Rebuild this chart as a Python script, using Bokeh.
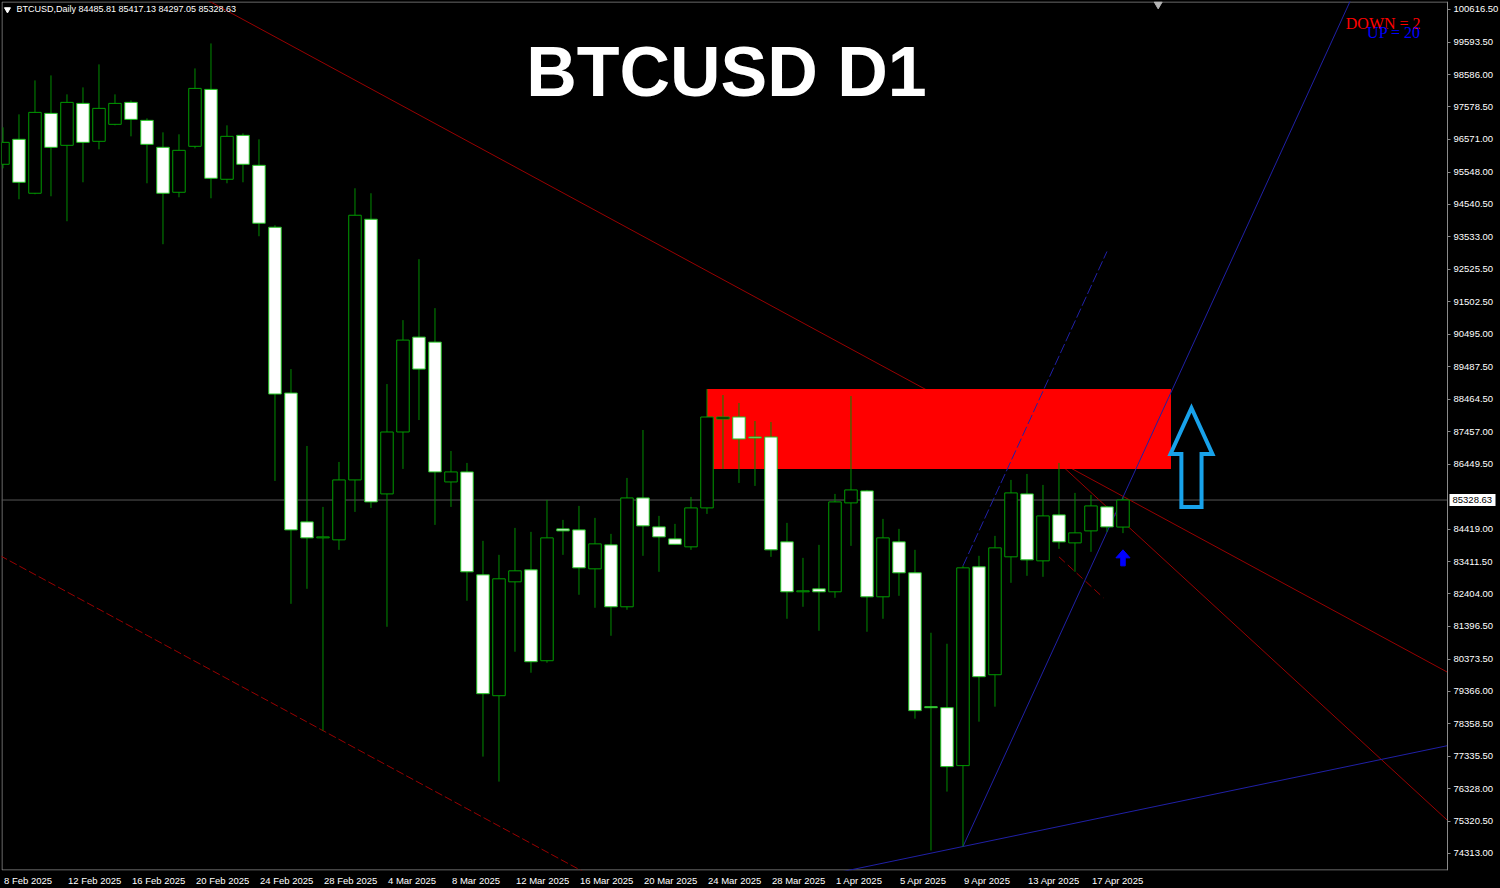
import numpy as np
from bokeh.plotting import figure
from bokeh.models import Range1d, FixedTicker, NumeralTickFormatter, Label
from bokeh.core.properties import value
from bokeh.embed import file_html
from bokeh.resources import INLINE

# ---------------- data ----------------
symbol = "BTCUSD,Daily"
title_text = "BTCUSD D1"
date_tick_idx = [0, 4, 8, 12, 16, 20, 24, 28, 32, 36, 40, 44, 48, 52, 56, 60, 64, 68]
date_labels = ["8 Feb 2025", "12 Feb 2025", "16 Feb 2025", "20 Feb 2025", "24 Feb 2025",
               "28 Feb 2025", "4 Mar 2025", "8 Mar 2025", "12 Mar 2025", "16 Mar 2025",
               "20 Mar 2025", "24 Mar 2025", "28 Mar 2025", "1 Apr 2025", "5 Apr 2025",
               "9 Apr 2025", "13 Apr 2025", "17 Apr 2025"]

opens = [95792, 96570, 94889, 97379, 96383, 97690, 96508, 97037, 97722, 97161,
         96321, 94920, 96352, 98126, 95325, 96694, 95760, 93830, 88663, 84647,
         84149, 84087, 85955, 94079, 85519, 87449, 90406, 90250, 85892, 86204,
         82997, 79230, 82779, 83153, 80320, 84429, 84398, 83184, 83931, 82001,
         85394, 84491, 84118, 83869, 85083, 87853, 87916, 87293, 87293, 84025,
         82468, 82561, 82468, 85239, 85612, 82312, 84025, 83060, 78888, 78857,
         77051, 83246, 79884, 83558, 85519, 83433, 84865, 83993, 84367, 85114,
         84485.81]
highs = [96943, 97348, 98406, 98562, 97971, 98189, 98905, 97971, 97784, 97224,
         96788, 96726, 98780, 99558, 97006, 96757, 96570, 93893, 89410, 87013,
         85114, 86515, 95045, 94889, 88943, 90935, 92834, 91309, 86857, 86484,
         84056, 83620, 84460, 84336, 85332, 84709, 85145, 84772, 84274, 86017,
         87511, 84834, 84585, 85425, 88787, 88601, 88352, 87791, 87760, 84616,
         83526, 83931, 85519, 88569, 85643, 84741, 84429, 83776, 81192, 80849,
         83277, 83589, 84211, 85955, 86141, 85799, 86484, 85550, 85488, 85145,
         85417.13]
lows = [95667, 94702, 94858, 94795, 94017, 95231, 96259, 97006, 96663, 95200,
        93301, 94764, 96290, 94733, 95200, 95231, 93550, 85923, 82094, 82561,
        78141, 83776, 84958, 85083, 81378, 86297, 87822, 84554, 85114, 82188,
        77332, 76553, 80600, 79946, 80258, 83620, 82375, 81970, 81098, 81908,
        83589, 83091, 83940, 83776, 84896, 86297, 85861, 85768, 83558, 81627,
        82001, 81254, 82281, 83900, 81223, 81627, 82343, 78514, 74405, 76242,
        74530, 78421, 78888, 82748, 82966, 82935, 83807, 83091, 83713, 84336,
        84297.05]
closes = [96476, 95231, 97410, 96321, 97722, 96476, 97535, 97690, 97192, 96414,
          94889, 96227, 98157, 95356, 96663, 95792, 93955, 88632, 84398, 84149,
          84180, 85955, 94204, 85270, 87449, 90313, 89410, 86204, 86204, 83091,
          79293, 82873, 83122, 80289, 84149, 84367, 83215, 83962, 82001, 85394,
          84523, 84180, 83950, 85083, 87916, 87916, 87231, 87262, 83776, 82468,
          82499, 82468, 85270, 85643, 82312, 84149, 83060, 78764, 78857, 77020,
          83215, 79822, 83838, 85550, 83464, 84834, 84025, 84305, 85145, 84491,
          85328.63]

price_ticks = [100616.50, 99593.50, 98586.00, 97578.50, 96571.00, 95548.00, 94540.50,
               93533.00, 92525.50, 91502.50, 90495.00, 89487.50, 88464.50, 87457.00,
               86449.50, 84419.00, 83411.50, 82404.00, 81396.50, 80373.50, 79366.00,
               78358.50, 77335.50, 76328.00, 75320.50, 74313.00]

# drawn objects (anchors in bar index / price)
zone_left, zone_right, zone_top, zone_bottom = 44, 73, 88787, 86297
red_trend_pts = [(13.16, 100803), (90.34, 79946)]
red_channel_anchor = (20, 78141)
fan_anchor = (66, 86484)
fan_slope = -458.8
fan_dash_pts = [(66, 83558), (68.78, 82281)]
blue_base_pts = [(60, 74530), (90.28, 77673)]
blue_steep_pts = [(60, 74530), (70, 85417.13)]
blue_dash_start = (60, 83277)
blue_dash_end_x = 69
down_count, up_count = 2, 20
signal_arrow = dict(x=70, tip=83776, neck=83527, tail=83277)
big_arrow = dict(x=74.28, tip=88197, neck=86764, tail=85114)

# ---------------- layout constants ----------------
PX_BAR = 16.0          # pixels per bar
PX_PRICE = 31.13       # price per pixel
X0 = -0.0925           # left edge of the frame (bar index)
X_AX = 90.2825         # right edge of the chart area, where the price scale sits
X1 = X0 + 1499 / PX_BAR
Y0, Y1 = 73782.4, 100865.5
hx, hy = 0.5 / PX_BAR, 0.5 * PX_PRICE   # half a pixel in data units

p = figure(width=1500, height=888, output_backend="svg", toolbar_location=None,
           x_range=Range1d(X0, X1), y_range=Range1d(Y0, Y1),
           y_axis_location="right", background_fill_color="black",
           border_fill_color="black", min_border_left=1, min_border_top=1,
           min_border_right=0, min_border_bottom=17)
p.grid.visible = False
p.outline_line_color = None

try:
    from bokeh.models import GlobalInlineStyleSheet
    p.stylesheets = [GlobalInlineStyleSheet(
        css="html, body { background: #000000; margin: 0; padding: 0; overflow: hidden; }")]
except Exception:
    pass

FONT = "Liberation Sans"
LBL = "9.5px"
GRAY = "#8a8a8a"

last_close = closes[-1]

# y axis: price scale drawn at the right edge of the chart area
ya = p.yaxis[0]
ya.fixed_location = X_AX
ya.ticker = FixedTicker(ticks=price_ticks)
ya.formatter = NumeralTickFormatter(format="0.00")
ya.axis_line_color = GRAY
ya.major_tick_line_color = GRAY
ya.major_tick_out = 3
ya.major_tick_in = 0
ya.minor_tick_line_color = None
ya.major_label_text_color = "#ffffff"
ya.major_label_text_font = FONT
ya.major_label_text_font_size = LBL
ya.major_label_standoff = 3

# x axis: labels start at the bar of their date (shift centred labels right)
AW = {**{d: 0.556 for d in "0123456789"}, " ": 0.278, "F": 0.611, "e": 0.556,
      "b": 0.556, "M": 0.833, "a": 0.556, "r": 0.333, "A": 0.667, "p": 0.556}
tick_pos, overrides = [], {}
for i, lab in zip(date_tick_idx, date_labels):
    w = sum(AW.get(ch, 0.556) for ch in lab) * 9.5
    pos = round(i + (w / 2 + 1) / PX_BAR, 3)
    tick_pos.append(pos)
    overrides[pos] = lab
xa = p.xaxis[0]
xa.ticker = FixedTicker(ticks=tick_pos)
xa.major_label_overrides = overrides
xa.axis_line_color = None
xa.major_tick_line_color = None
xa.major_tick_out = 0
xa.major_tick_in = 0
xa.minor_tick_line_color = None
xa.major_label_text_color = "#ffffff"
xa.major_label_text_font = FONT
xa.major_label_text_font_size = LBL
xa.major_label_standoff = 4

# chart border (left, top, bottom; right side is the price scale line)
p.line([X_AX, X0 + hx, X0 + hx, X_AX], [Y1 - hy, Y1 - hy, Y0 + hy, Y0 + hy],
       line_color=GRAY, line_width=1)

# current price line
p.line([X0, X_AX], [last_close, last_close], line_color="#555555", line_width=1)

RED = "#980000"
BLUE = "#2020a6"

# long red trend line (behind the zone)
(ax_, ay_), (bx_, by_) = red_trend_pts
red_slope = (by_ - ay_) / (bx_ - ax_)
xs = [11, X_AX]
p.line(xs, [ay_ + red_slope * (x - ax_) for x in xs], line_color=RED, line_width=1)
# parallel dashed channel line
cx_, cy_ = red_channel_anchor
xs = [-2, 40]
p.line(xs, [cy_ + red_slope * (x - cx_) for x in xs], line_color=RED, line_width=1,
       line_dash="8 3")
# fan line from the 16 Apr high
fx_, fy_ = fan_anchor
xs = [fx_, X_AX]
p.line(xs, [fy_ + fan_slope * (x - fx_) for x in xs], line_color=RED, line_width=1)

# red zone
p.quad(left=[zone_left], right=[zone_right], top=[zone_top], bottom=[zone_bottom],
       fill_color="#ff0000", line_color=None)

# short dashed red segment
p.line([q[0] for q in fan_dash_pts], [q[1] for q in fan_dash_pts], line_color=RED,
       line_width=1, line_dash="8 4")

# blue lines
(b0x, b0y), (b1x, b1y) = blue_base_pts
bslope = (b1y - b0y) / (b1x - b0x)
xs = [45, X_AX]
p.line(xs, [b0y + bslope * (x - b0x) for x in xs], line_color=BLUE, line_width=1)
(s0x, s0y), (s1x, s1y) = blue_steep_pts
sslope = (s1y - s0y) / (s1x - s0x)
xs = [s0x, 86]
p.line(xs, [s0y + sslope * (x - s0x) for x in xs], line_color=BLUE, line_width=1)
dx_, dy_ = blue_dash_start
xs = [dx_, blue_dash_end_x]
p.line(xs, [dy_ + sslope * (x - dx_) for x in xs], line_color=BLUE, line_width=1,
       line_dash="10 3")

# ---------------- candles ----------------
o = np.array(opens, dtype=float)
h = np.array(highs, dtype=float)
l = np.array(lows, dtype=float)
c = np.array(closes, dtype=float)
idx = np.arange(len(o))
bull = c >= o
bear = ~bull

p.segment(x0=idx, y0=l, x1=idx, y1=h, line_color="#008c00", line_width=1)
p.vbar(x=idx[bull], width=0.78, top=c[bull], bottom=o[bull], fill_color="#000000",
       line_color="#009c00", line_width=1)
p.vbar(x=idx[bear], width=0.78, top=o[bear], bottom=c[bear], fill_color="#ffffff",
       line_color="#22c422", line_width=1)

# ---------------- arrows ----------------
sa = signal_arrow
hw, sw = 0.44, 0.14
p.patch([sa["x"], sa["x"] + hw, sa["x"] + sw, sa["x"] + sw, sa["x"] - sw, sa["x"] - sw, sa["x"] - hw],
        [sa["tip"], sa["neck"], sa["neck"], sa["tail"], sa["tail"], sa["neck"], sa["neck"]],
        fill_color="#0000ff", line_color="#0000ff", line_width=1)

ba = big_arrow
hw, sw = 1.31, 0.63
p.patch([ba["x"], ba["x"] + hw, ba["x"] + sw, ba["x"] + sw, ba["x"] - sw, ba["x"] - sw, ba["x"] - hw],
        [ba["tip"], ba["neck"], ba["neck"], ba["tail"], ba["tail"], ba["neck"], ba["neck"]],
        fill_alpha=0, line_color="#18a2ea", line_width=4, line_join="miter")

# small chart markers
p.scatter(x=[0.28], y=[100616.5], marker="inverted_triangle", size=6, color="#ffffff")
p.scatter(x=[72.2], y=[100780], marker="inverted_triangle", size=8, color="#b4b4b4")

# current price tag on the price scale
tag_left = X_AX + 2 / PX_BAR
tag_right = X_AX + 48 / PX_BAR
p.quad(left=[tag_left], right=[tag_right], top=[last_close + 6 * PX_PRICE],
       bottom=[last_close - 6 * PX_PRICE], fill_color="#ffffff", line_color=None)
p.text(x=[X_AX + 5 / PX_BAR], y=[last_close], text=[f"{last_close:.2f}"],
       text_font=value(FONT), text_font_size=value(LBL), text_color="#000000",
       text_align="left", text_baseline="middle")

# ---------------- texts ----------------
p.add_layout(Label(x=0.84, y=100616.5,
                   text=f"{symbol}  {opens[-1]:.2f} {highs[-1]:.2f} {lows[-1]:.2f} {closes[-1]:.2f}",
                   text_font=FONT, text_font_size="9px", text_color="#ffffff",
                   text_baseline="middle", text_align="left"))
p.add_layout(Label(x=45.22, y=98655, text=title_text, text_font=FONT,
                   text_font_size="70px", text_font_style="bold", text_color="#ffffff",
                   text_align="center", text_baseline="middle"))
p.add_layout(Label(x=88.85, y=100165, text=f"DOWN =  {down_count}",
                   text_font="Liberation Serif", text_font_size="16px",
                   text_color="#ff0000", text_align="right", text_baseline="alphabetic"))
p.add_layout(Label(x=88.85, y=99901, text=f"UP =  {up_count}",
                   text_font="Liberation Serif", text_font_size="16px",
                   text_color="#0000ff", text_align="right", text_baseline="alphabetic"))

open("out.html", "w").write(file_html(p, INLINE))
